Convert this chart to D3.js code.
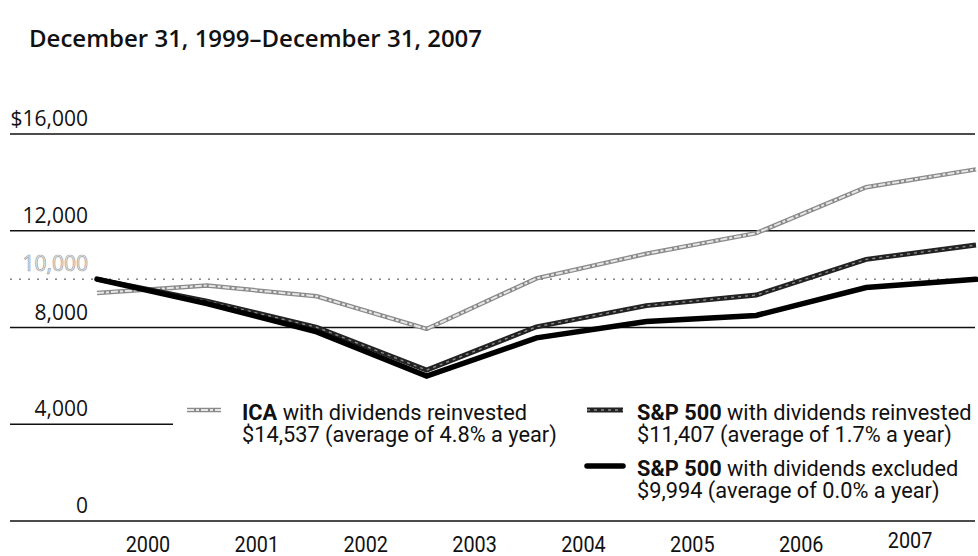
<!DOCTYPE html>
<html><head><meta charset="utf-8">
<script src="https://cdn.jsdelivr.net/npm/d3@7"></script>
<style>
body{margin:0;background:#fff;}
svg{display:block;}
text{font-family:Roboto,"Open Sans",sans-serif;}
.ttl{font-family:"Open Sans",sans-serif;}
.ax{font-family:"Open Sans",sans-serif;}
</style></head>
<body><svg id="c" width="978" height="556"></svg>
<script>
const title = "December 31, 1999\u2013December 31, 2007";
const years = [1999,2000,2001,2002,2003,2004,2005,2006,2007];
const yearLabels = ["2000","2001","2002","2003","2004","2005","2006","2007"];
const icaValues = [9425,9736,9290,7940,10030,11050,11900,13800,14537];
const spReinvested = [10000,9090,8009,6239,8029,8904,9340,10816,11407];
const spExcluded = [10000,8986,7818,5989,7570,8251,8499,9655,9994];
const yTicks = [0,4000,8000,12000,16000];
const yTickLabels = ["0","4,000","8,000","12,000","$16,000"];
const refValue = 10000, refLabel = "10,000";
const legendItems = [
  {bold:"ICA", rest:" with dividends reinvested", line2:"$14,537 (average of 4.8% a year)", key:"ica"},
  {bold:"S&P 500", rest:" with dividends reinvested", line2:"$11,407 (average of 1.7% a year)", key:"spr"},
  {bold:"S&P 500", rest:" with dividends excluded", line2:"$9,994 (average of 0.0% a year)", key:"spe"}
];

const svg = d3.select("#c");
const x = d3.scaleLinear().domain([1999,2007]).range([97,976]);
const y = d3.scaleLinear().domain([0,16000]).range([521,134]);
const SX = 0.99;

svg.append("text").attr("class","ttl").attr("x",29).attr("y",47).attr("font-size",24).attr("font-weight",600)
  .attr("fill","#111").text(title);

// gridlines
yTicks.forEach((t,i)=>{
  const x2 = t===4000 ? 173 : 975;
  svg.append("line").attr("x1",10).attr("x2",x2).attr("y1",y(t)).attr("y2",y(t))
    .attr("stroke","#111").attr("stroke-width",1.6);
  svg.append("text").attr("class","ax").attr("x",88).attr("y",y(t)-8).attr("text-anchor","end")
    .attr("font-size",21).attr("fill","#111").text(yTickLabels[i]);
});
svg.append("line").attr("x1",10).attr("x2",975).attr("y1",y(refValue)).attr("y2",y(refValue))
  .attr("stroke","#444").attr("stroke-width",1).attr("stroke-dasharray","2,7");
svg.append("text").attr("class","ax").attr("x",88).attr("y",y(refValue)-8).attr("text-anchor","end")
  .attr("font-size",21).attr("fill","#f6f6f6").attr("stroke","#999").attr("stroke-width",0.7)
  .text(refLabel);

// x labels
yearLabels.forEach((l,i)=>{
  const cx = x(1999.5+i)-4-i, cy = i===7 ? 548 : 552;
  svg.append("text").attr("transform",`translate(${cx},${cy}) scale(0.9,1)`)
    .attr("text-anchor","middle").attr("font-size",22).attr("fill","#111").text(l);
});

const line = d3.line().x((d,i)=>x(years[i])).y(d=>y(d));
function styleSeries(g, d, key){
  if(key==="ica"){
    g.append("path").attr("d",d).attr("fill","none").attr("stroke","#8a8a8a").attr("stroke-width",4.5);
    g.append("path").attr("d",d).attr("fill","none").attr("stroke","#e6e6e6").attr("stroke-width",2).attr("stroke-dasharray","7,2,3,2");
  } else if(key==="spr"){
    g.append("path").attr("d",d).attr("fill","none").attr("stroke","#222").attr("stroke-width",5);
    g.append("path").attr("d",d).attr("fill","none").attr("stroke","#8a8a8a").attr("stroke-width",1.4).attr("stroke-dasharray","3,4");
  } else {
    g.append("path").attr("d",d).attr("fill","none").attr("stroke","#000").attr("stroke-width",5.5).attr("stroke-linecap","round");
  }
}
styleSeries(svg.append("g"), line(icaValues), "ica");
styleSeries(svg.append("g"), line(spReinvested), "spr");
styleSeries(svg.append("g"), line(spExcluded), "spe");

// legend
const legendPos = [{sx:187,sw:34,tx:242,y:420},{sx:587,sw:36,tx:637,y:420},{sx:587,sw:36,tx:637,y:476}];
legendItems.forEach((it,i)=>{
  const p = legendPos[i];
  const d = d3.line()([[p.sx,p.y-10],[p.sx+p.sw,p.y-10]]);
  styleSeries(svg.append("g"), d, it.key);
  const t = svg.append("text").attr("transform",`translate(${p.tx},${p.y}) scale(${SX},1)`)
    .attr("font-size",22).attr("fill","#111");
  t.append("tspan").attr("font-weight",700).text(it.bold);
  t.append("tspan").text(it.rest);
  svg.append("text").attr("transform",`translate(${p.tx},${p.y+22}) scale(${SX},1)`)
    .attr("font-size",22).attr("fill","#111").text(it.line2);
});
</script></body></html>
